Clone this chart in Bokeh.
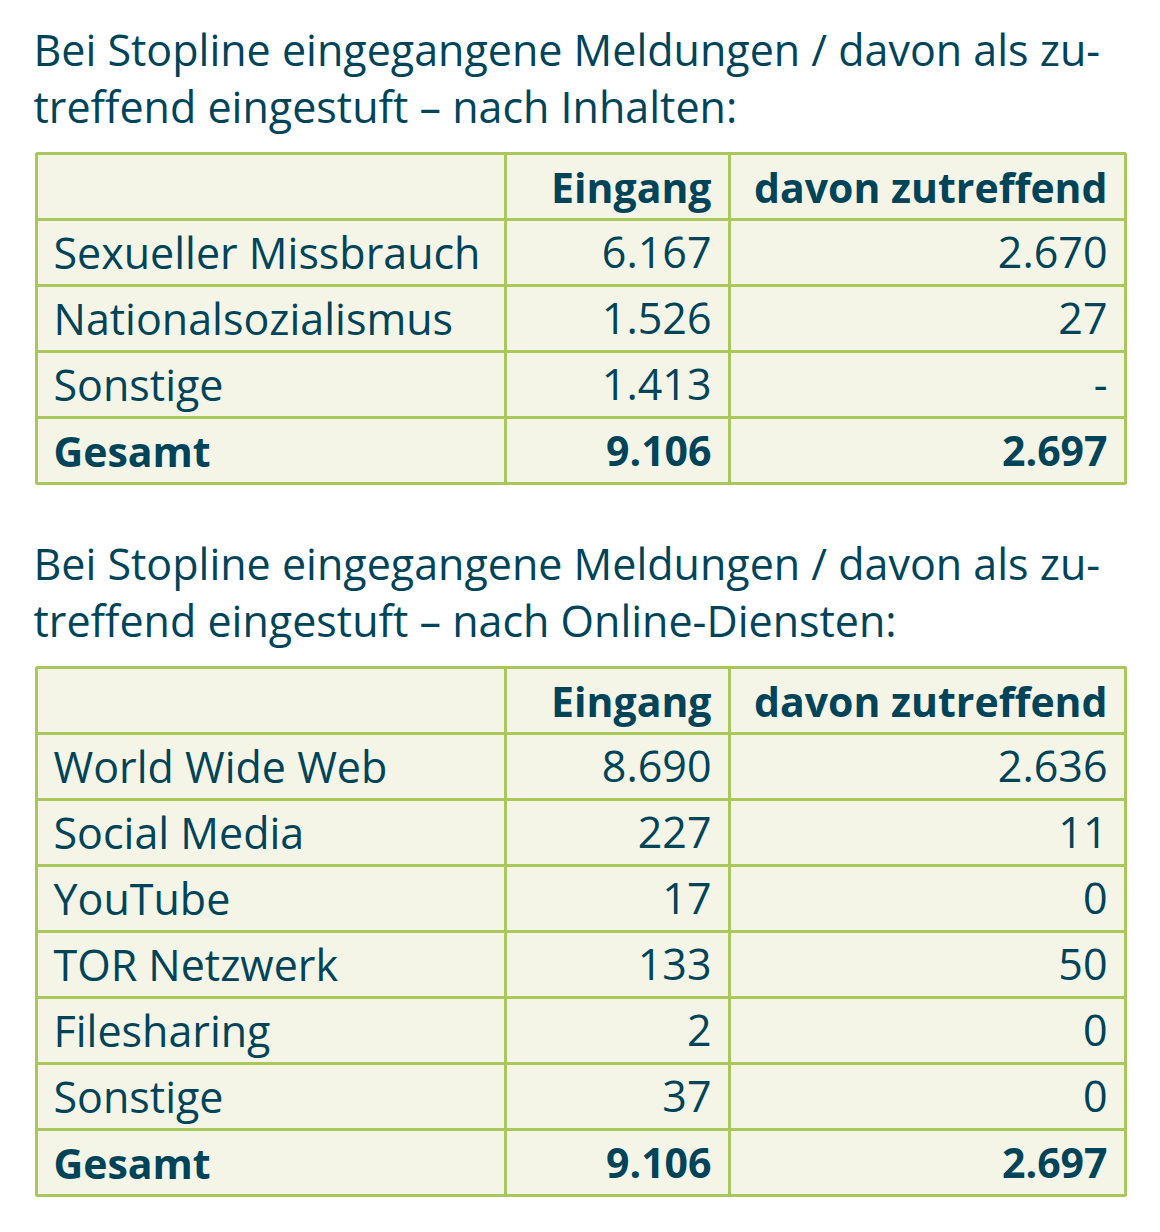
from bokeh.plotting import figure
from bokeh.models import Range1d
from bokeh.embed import file_html
from bokeh.resources import INLINE
from bokeh.core.properties import value

# ---- data ----
title1 = ["Bei Stopline eingegangene Meldungen / davon als zu-",
          "treffend eingestuft – nach Inhalten:"]
title2 = ["Bei Stopline eingegangene Meldungen / davon als zu-",
          "treffend eingestuft – nach Online-Diensten:"]
header = ["", "Eingang", "davon zutreffend"]

cat1 = ["Sexueller Missbrauch", "Nationalsozialismus", "Sonstige", "Gesamt"]
eingang1 = ["6.167", "1.526", "1.413", "9.106"]
zutreffend1 = ["2.670", "27", "-", "2.697"]

cat2 = ["World Wide Web", "Social Media", "YouTube", "TOR Netzwerk",
        "Filesharing", "Sonstige", "Gesamt"]
eingang2 = ["8.690", "227", "17", "133", "2", "37", "9.106"]
zutreffend2 = ["2.636", "11", "0", "50", "0", "0", "2.697"]

# ---- style ----
FONT = "Open Sans"
TEXT = "#00445a"
GRID = "#a9c75a"
FILL = "#f5f5e7"
TSIZE = "43px"
NSIZE = "43px"
BSIZE = "41px"
OFF = 17  # baseline compensation

W, H = 1152, 1224
p = figure(width=W, height=H, output_backend="svg", toolbar_location=None,
           x_range=Range1d(0, W), y_range=Range1d(H, 0),
           min_border=0)
p.axis.visible = False
p.grid.visible = False
p.outline_line_color = None
p.background_fill_color = "white"
p.border_fill_color = "white"

col_edges = [36, 505, 729, 1125]
ROW_H = 66


def draw_table(top, title, cats, ein, zut, title_base):
    p.text(x=[33, 33], y=[title_base - OFF, title_base + 57 - OFF], text=title,
           text_font=value(FONT), text_font_size=TSIZE, text_color=TEXT,
           text_baseline="alphabetic", text_align="left")
    rows = [header] + [[c, e, z] for c, e, z in zip(cats, ein, zut)]
    n = len(rows)
    l, r, t, b = [], [], [], []
    for i in range(n):
        for j in range(3):
            l.append(col_edges[j]); r.append(col_edges[j + 1])
            t.append(top + i * ROW_H); b.append(top + (i + 1) * ROW_H)
    p.quad(left=l, right=r, top=t, bottom=b, fill_color=FILL,
           line_color=GRID, line_width=3)
    for i, row in enumerate(rows):
        bold = (i == 0) or (i == n - 1)
        yb = top + i * ROW_H + 50 - OFF
        style = "bold" if bold else "normal"
        size = BSIZE if bold else NSIZE
        p.text(x=[53], y=[yb], text=[row[0]], text_font=value(FONT),
               text_font_size=size, text_font_style=style, text_color=TEXT,
               text_align="left", text_baseline="alphabetic")
        p.text(x=[711, 1107], y=[yb, yb], text=[row[1], row[2]],
               text_font=value(FONT), text_font_size=size,
               text_font_style=style, text_color=TEXT,
               text_align="right", text_baseline="alphabetic")


draw_table(153, title1, cat1, eingang1, zutreffend1, 66)
draw_table(667, title2, cat2, eingang2, zutreffend2, 580)

open("out.html", "w").write(file_html(p, INLINE))
